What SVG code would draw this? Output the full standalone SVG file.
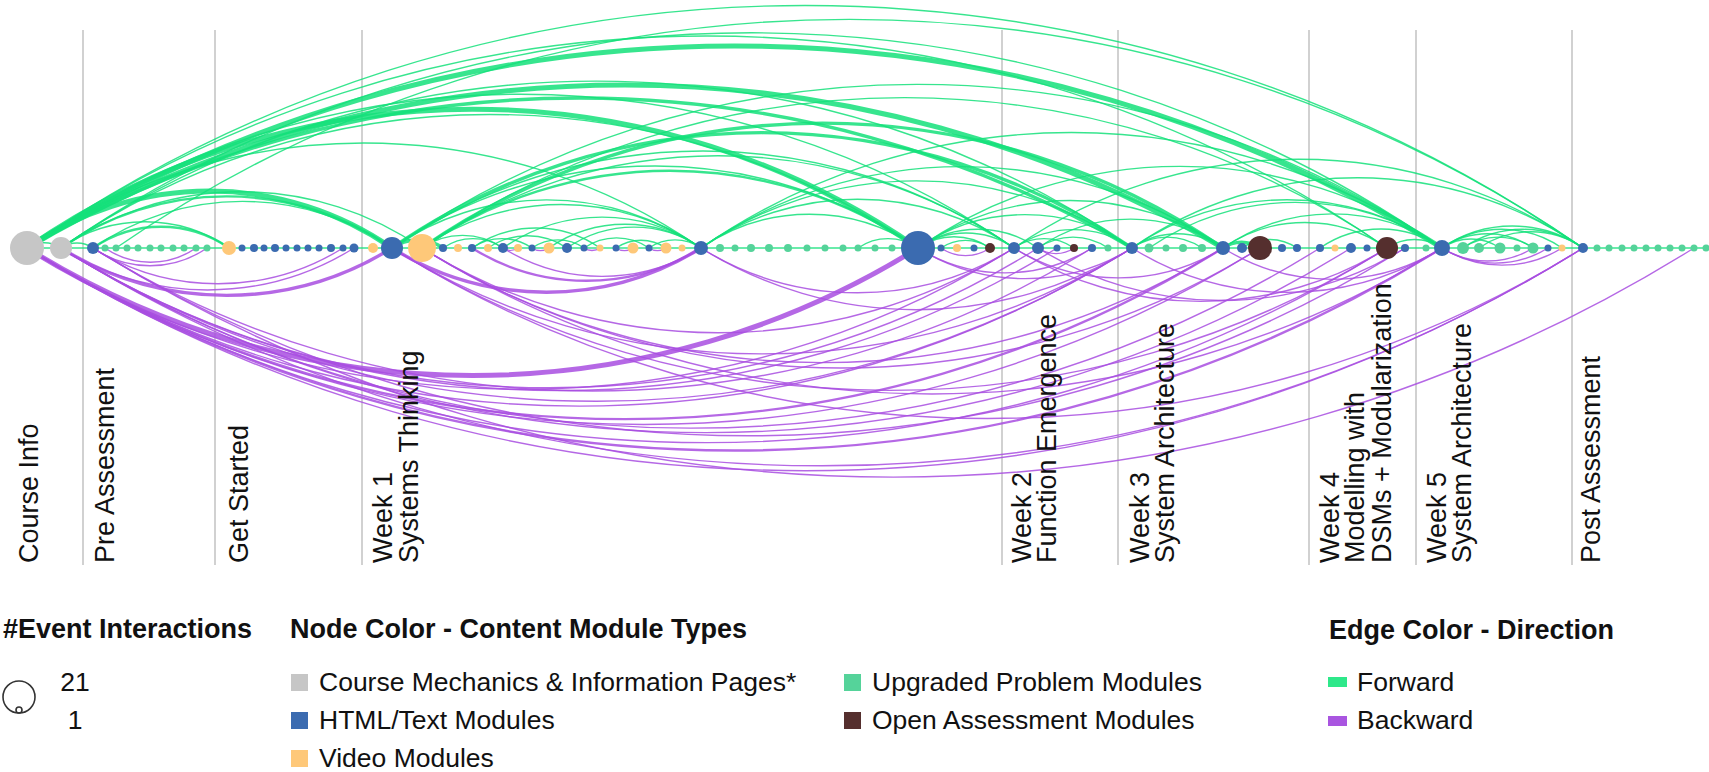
<svg xmlns="http://www.w3.org/2000/svg" width="1709" height="772" viewBox="0 0 1709 772">
<style>
.vl{stroke:#c2c2c2;stroke-width:1.5}
.fw{fill:none;stroke:#14e07a;stroke-opacity:.85;stroke-width:1.4}
.bw{fill:none;stroke:#a84de0;stroke-opacity:.85;stroke-width:1.4}
.w2{stroke-width:2.4}.w3{stroke-width:3.4}.w5{stroke-width:5}
.g{fill:#c6c6c6}.b{fill:#3b6bb0}.o{fill:#fec879}.gr{fill:#55d39a}.br{fill:#552f2e}
.lab{font-family:"Liberation Sans",Arial,sans-serif;font-size:27px;fill:#111}
.lt{font-family:"Liberation Sans",Arial,sans-serif;font-size:27px;font-weight:bold;fill:#111}
.lg{font-family:"Liberation Sans",Arial,sans-serif;font-size:26.5px;fill:#111}
</style>
<rect width="1709" height="772" fill="#fff"/>
<g id="sections">
<line class="vl" x1="83" y1="30" x2="83" y2="565"/>
<line class="vl" x1="215" y1="30" x2="215" y2="565"/>
<line class="vl" x1="362" y1="30" x2="362" y2="565"/>
<line class="vl" x1="1002" y1="30" x2="1002" y2="565"/>
<line class="vl" x1="1118" y1="30" x2="1118" y2="565"/>
<line class="vl" x1="1309" y1="30" x2="1309" y2="565"/>
<line class="vl" x1="1416" y1="30" x2="1416" y2="565"/>
<line class="vl" x1="1572" y1="30" x2="1572" y2="565"/>
</g>
<g id="connectors">
<g id="forward">
<line class="fw" x1="27" y1="248" x2="1709" y2="248"/>
<path class="fw w5" d="M27 248A1340 1340 0 0 1 1442 248"/>
<path class="fw w5" d="M27 248A1178 1178 0 0 1 1223 248"/>
<path class="fw w3" d="M27 248A1092.5 1092.5 0 0 1 1132 248"/>
<path class="fw w5" d="M27 248A784.1 784.1 0 0 1 918 248"/>
<path class="fw w5" d="M27 248A321.2 321.2 0 0 1 392 248"/>
<path class="fw w3" d="M422 248A704.9 704.9 0 0 1 1223 248"/>
<path class="fw w3" d="M392 248A651.2 651.2 0 0 1 1132 248"/>
<path class="fw w2" d="M61 248A291.3 291.3 0 0 1 392 248"/>
<path class="fw" d="M27 248A1369.3 1369.3 0 0 1 1583 248"/>
<path class="fw" d="M116 248A1290.9 1290.9 0 0 1 1583 248"/>
<path class="fw" d="M61 248A1215.3 1215.3 0 0 1 1442 248"/>
<path class="fw" d="M27 248A1196.8 1196.8 0 0 1 1387 248"/>
<path class="fw" d="M27 248A868.6 868.6 0 0 1 1014 248"/>
<path class="fw" d="M61 248A942.5 942.5 0 0 1 1132 248"/>
<path class="fw" d="M27 248A593.1 593.1 0 0 1 701 248"/>
<path class="fw" d="M61 248A754.2 754.2 0 0 1 918 248"/>
<path class="fw" d="M93 248A263.1 263.1 0 0 1 392 248"/>
<path class="fw" d="M61 248A317.7 317.7 0 0 1 422 248"/>
<path class="fw w2" d="M93 248A119.7 119.7 0 0 1 229 248"/>
<path class="fw" d="M61 248A147.8 147.8 0 0 1 229 248"/>
<path class="fw" d="M27 248A29.9 29.9 0 0 1 61 248"/>
<path class="fw" d="M61 248A28.2 28.2 0 0 1 93 248"/>
<path class="fw" d="M392 248A271.9 271.9 0 0 1 701 248"/>
<path class="fw" d="M392 248A462.9 462.9 0 0 1 918 248"/>
<path class="fw" d="M392 248A547.4 547.4 0 0 1 1014 248"/>
<path class="fw w2" d="M422 248A436.5 436.5 0 0 1 918 248"/>
<path class="fw" d="M422 248A521 521 0 0 1 1014 248"/>
<path class="fw" d="M422 248A245.5 245.5 0 0 1 701 248"/>
<path class="fw" d="M701 248A191 191 0 0 1 918 248"/>
<path class="fw" d="M701 248A275.4 275.4 0 0 1 1014 248"/>
<path class="fw" d="M701 248A379.3 379.3 0 0 1 1132 248"/>
<path class="fw" d="M567 248A117.9 117.9 0 0 1 701 248"/>
<path class="fw" d="M503 248A174.2 174.2 0 0 1 701 248"/>
<path class="fw" d="M443 248A52.8 52.8 0 0 1 503 248"/>
<path class="fw" d="M472 248A52.8 52.8 0 0 1 532 248"/>
<path class="fw" d="M532 248A45.8 45.8 0 0 1 584 248"/>
<path class="fw" d="M584 248A57.2 57.2 0 0 1 649 248"/>
<path class="fw" d="M616 248A44 44 0 0 1 666 248"/>
<path class="fw" d="M649 248A45.8 45.8 0 0 1 701 248"/>
<path class="fw" d="M472 248A112.6 112.6 0 0 1 600 248"/>
<path class="fw" d="M488 248A69.5 69.5 0 0 1 567 248"/>
<path class="fw" d="M549 248A133.8 133.8 0 0 1 701 248"/>
<path class="fw w3" d="M392 248A44.9 44.9 0 0 1 443 248"/>
<path class="fw" d="M422 248A71.3 71.3 0 0 1 503 248"/>
<path class="fw" d="M918 248A84.5 84.5 0 0 1 1014 248"/>
<path class="fw" d="M918 248A105.6 105.6 0 0 1 1038 248"/>
<path class="fw" d="M918 248A188.3 188.3 0 0 1 1132 248"/>
<path class="fw" d="M918 248A268.4 268.4 0 0 1 1223 248"/>
<path class="fw" d="M918 248A461.1 461.1 0 0 1 1442 248"/>
<path class="fw" d="M1014 248A500.7 500.7 0 0 1 1583 248"/>
<path class="fw" d="M1038 248A162.8 162.8 0 0 1 1223 248"/>
<path class="fw" d="M1014 248A103.8 103.8 0 0 1 1132 248"/>
<path class="fw" d="M1132 248A272.8 272.8 0 0 1 1442 248"/>
<path class="fw" d="M1149 248A257.8 257.8 0 0 1 1442 248"/>
<path class="fw" d="M1132 248A80.1 80.1 0 0 1 1223 248"/>
<path class="fw" d="M1223 248A144.3 144.3 0 0 1 1387 248"/>
<path class="fw" d="M1223 248A192.7 192.7 0 0 1 1442 248"/>
<path class="fw" d="M1132 248A396.9 396.9 0 0 1 1583 248"/>
<path class="fw" d="M1442 248A124.1 124.1 0 0 1 1583 248"/>
<path class="fw" d="M1442 248A80.1 80.1 0 0 1 1533 248"/>
<path class="fw" d="M1463 248A105.6 105.6 0 0 1 1583 248"/>
<path class="fw" d="M1387 248A48.4 48.4 0 0 1 1442 248"/>
<path class="fw" d="M1320 248A107.4 107.4 0 0 1 1442 248"/>
<path class="fw" d="M1442 248A105.6 105.6 0 0 1 1562 248"/>
<path class="fw" d="M858 248A52.8 52.8 0 0 1 918 248"/>
<path class="fw" d="M392 248A924 924 0 0 1 1442 248"/>
<path class="fw" d="M422 248A849.2 849.2 0 0 1 1387 248"/>
<path class="fw" d="M701 248A459.4 459.4 0 0 1 1223 248"/>
<path class="fw" d="M701 248A652.1 652.1 0 0 1 1442 248"/>
<path class="fw" d="M918 248A63.4 63.4 0 0 1 990 248"/>
<path class="fw" d="M941 248A43.1 43.1 0 0 1 990 248"/>
<path class="fw" d="M1014 248A52.8 52.8 0 0 1 1074 248"/>
<path class="fw" d="M1038 248A61.6 61.6 0 0 1 1108 248"/>
<path class="fw" d="M1132 248A61.6 61.6 0 0 1 1202 248"/>
<path class="fw w3" d="M1223 248A32.6 32.6 0 0 1 1260 248"/>
<path class="fw" d="M1242 248A48.4 48.4 0 0 1 1297 248"/>
<path class="fw" d="M1442 248A51 51 0 0 1 1500 248"/>
<path class="fw" d="M1463 248A61.6 61.6 0 0 1 1533 248"/>
<path class="fw" d="M1479 248A91.5 91.5 0 0 1 1583 248"/>
</g>
<g id="backward">
<path class="bw w5" d="M27 248A842 842 0 0 0 918 248"/>
<path class="bw w3" d="M61 248A312.8 312.8 0 0 0 392 248"/>
<path class="bw w3" d="M392 248A292 292 0 0 0 701 248"/>
<path class="bw" d="M27 248A932.7 932.7 0 0 0 1014 248"/>
<path class="bw" d="M27 248A1044.2 1044.2 0 0 0 1132 248"/>
<path class="bw w2" d="M27 248A1130.2 1130.2 0 0 0 1223 248"/>
<path class="bw" d="M27 248A1165.2 1165.2 0 0 0 1260 248"/>
<path class="bw" d="M27 248A1285.2 1285.2 0 0 0 1387 248"/>
<path class="bw w2" d="M27 248A1337.2 1337.2 0 0 0 1442 248"/>
<path class="bw" d="M27 248A1470.4 1470.4 0 0 0 1583 248"/>
<path class="bw" d="M93 248A1513 1513 0 0 0 1694 248"/>
<path class="bw" d="M61 248A923.3 923.3 0 0 0 1038 248"/>
<path class="bw" d="M61 248A1219 1219 0 0 0 1351 248"/>
<path class="bw" d="M93 248A944 944 0 0 0 1092 248"/>
<path class="bw" d="M61 248A1189.8 1189.8 0 0 0 1320 248"/>
<path class="bw" d="M93 248A1239.8 1239.8 0 0 0 1405 248"/>
<path class="bw" d="M61 248A1012.1 1012.1 0 0 0 1132 248"/>
<path class="bw" d="M61 248A941.2 941.2 0 0 0 1057 248"/>
<path class="bw" d="M93 248A100.3 100.3 0 0 0 207 248"/>
<path class="bw" d="M105 248A80.1 80.1 0 0 0 196 248"/>
<path class="bw" d="M93 248A236.3 236.3 0 0 0 343 248"/>
<path class="bw" d="M61 248A276.9 276.9 0 0 0 354 248"/>
<path class="bw" d="M422 248A559.4 559.4 0 0 0 1014 248"/>
<path class="bw" d="M422 248A757 757 0 0 0 1223 248"/>
<path class="bw" d="M392 248A940.3 940.3 0 0 0 1387 248"/>
<path class="bw" d="M422 248A791.9 791.9 0 0 0 1260 248"/>
<path class="bw" d="M392 248A699.3 699.3 0 0 0 1132 248"/>
<path class="bw w2" d="M472 248A216.4 216.4 0 0 0 701 248"/>
<path class="bw" d="M503 248A187.1 187.1 0 0 0 701 248"/>
<path class="bw" d="M701 248A295.8 295.8 0 0 0 1014 248"/>
<path class="bw" d="M701 248A407.3 407.3 0 0 0 1132 248"/>
<path class="bw" d="M918 248A164.4 164.4 0 0 0 1092 248"/>
<path class="bw" d="M918 248A202.2 202.2 0 0 0 1132 248"/>
<path class="bw" d="M941 248A43.1 43.1 0 0 0 990 248"/>
<path class="bw" d="M1014 248A197.5 197.5 0 0 0 1223 248"/>
<path class="bw" d="M1014 248A352.5 352.5 0 0 0 1387 248"/>
<path class="bw" d="M1038 248A346.8 346.8 0 0 0 1405 248"/>
<path class="bw" d="M1038 248A31.7 31.7 0 0 0 1074 248"/>
<path class="bw" d="M1132 248A293 293 0 0 0 1442 248"/>
<path class="bw" d="M1223 248A207 207 0 0 0 1442 248"/>
<path class="bw" d="M1442 248A86 86 0 0 0 1533 248"/>
<path class="bw" d="M1442 248A100.2 100.2 0 0 0 1548 248"/>
<path class="bw" d="M1442 248A113.4 113.4 0 0 0 1562 248"/>
<path class="bw" d="M61 248A1438.3 1438.3 0 0 0 1583 248"/>
<path class="bw" d="M392 248A1125.5 1125.5 0 0 0 1583 248"/>
<path class="bw" d="M422 248A963.9 963.9 0 0 0 1442 248"/>
<path class="bw" d="M503 248A13.2 13.2 0 0 0 518 248"/>
<path class="bw" d="M532 248A15 15 0 0 0 549 248"/>
<path class="bw" d="M584 248A14 14 0 0 0 600 248"/>
<path class="bw" d="M616 248A15 15 0 0 0 633 248"/>
<path class="bw" d="M649 248A15 15 0 0 0 666 248"/>
</g>
</g>
<g id="nodes">
<g id="n-course-info"><circle class="g" cx="27" cy="248" r="17"/></g>
<g id="n-course-info-2"><circle class="g" cx="61" cy="248" r="11"/></g>
<g id="n-pre-1"><circle class="b" cx="93" cy="248" r="6"/></g>
<g id="n-pre-2"><circle class="gr" cx="105" cy="248" r="3.5"/></g>
<g id="n-pre-3"><circle class="gr" cx="116" cy="248" r="3.5"/></g>
<g id="n-pre-4"><circle class="gr" cx="127" cy="248" r="3.5"/></g>
<g id="n-pre-5"><circle class="gr" cx="138" cy="248" r="3.5"/></g>
<g id="n-pre-6"><circle class="gr" cx="150" cy="248" r="3.5"/></g>
<g id="n-pre-7"><circle class="gr" cx="161" cy="248" r="3.5"/></g>
<g id="n-pre-8"><circle class="gr" cx="173" cy="248" r="3.5"/></g>
<g id="n-pre-9"><circle class="gr" cx="184" cy="248" r="3.5"/></g>
<g id="n-pre-10"><circle class="gr" cx="196" cy="248" r="3.5"/></g>
<g id="n-pre-11"><circle class="gr" cx="207" cy="248" r="3.5"/></g>
<g id="n-gs-1"><circle class="o" cx="229" cy="248" r="7"/></g>
<g id="n-gs-2"><circle class="b" cx="242" cy="248" r="3.5"/></g>
<g id="n-gs-3"><circle class="b" cx="254" cy="248" r="4"/></g>
<g id="n-gs-4"><circle class="b" cx="264" cy="248" r="3.5"/></g>
<g id="n-gs-5"><circle class="b" cx="275" cy="248" r="4"/></g>
<g id="n-gs-6"><circle class="b" cx="286" cy="248" r="3.5"/></g>
<g id="n-gs-7"><circle class="b" cx="297" cy="248" r="3.5"/></g>
<g id="n-gs-8"><circle class="b" cx="308" cy="248" r="3.5"/></g>
<g id="n-gs-9"><circle class="b" cx="319" cy="248" r="3.5"/></g>
<g id="n-gs-10"><circle class="b" cx="331" cy="248" r="4"/></g>
<g id="n-gs-11"><circle class="b" cx="343" cy="248" r="3.5"/></g>
<g id="n-gs-12"><circle class="b" cx="354" cy="248" r="4.5"/></g>
<g id="n-w1-1"><circle class="o" cx="373" cy="248" r="5"/></g>
<g id="n-w1-2"><circle class="b" cx="392" cy="248" r="11"/></g>
<g id="n-w1-3"><circle class="o" cx="422" cy="248" r="14"/></g>
<g id="n-w1-4"><circle class="b" cx="443" cy="248" r="4"/></g>
<g id="n-w1-5"><circle class="o" cx="458" cy="248" r="4"/></g>
<g id="n-w1-6"><circle class="b" cx="472" cy="248" r="4"/></g>
<g id="n-w1-7"><circle class="o" cx="488" cy="248" r="4"/></g>
<g id="n-w1-8"><circle class="b" cx="503" cy="248" r="5"/></g>
<g id="n-w1-9"><circle class="o" cx="518" cy="248" r="4"/></g>
<g id="n-w1-10"><circle class="b" cx="532" cy="248" r="3.5"/></g>
<g id="n-w1-11"><circle class="o" cx="549" cy="248" r="5.5"/></g>
<g id="n-w1-12"><circle class="b" cx="567" cy="248" r="5"/></g>
<g id="n-w1-13"><circle class="b" cx="584" cy="248" r="3.5"/></g>
<g id="n-w1-14"><circle class="o" cx="600" cy="248" r="3.5"/></g>
<g id="n-w1-15"><circle class="b" cx="616" cy="248" r="3.5"/></g>
<g id="n-w1-16"><circle class="o" cx="633" cy="248" r="5.5"/></g>
<g id="n-w1-17"><circle class="b" cx="649" cy="248" r="3.5"/></g>
<g id="n-w1-18"><circle class="o" cx="666" cy="248" r="5.5"/></g>
<g id="n-w1-19"><circle class="o" cx="682" cy="248" r="3.5"/></g>
<g id="n-w1-20"><circle class="b" cx="701" cy="248" r="7"/></g>
<g id="n-w1-21"><circle class="gr" cx="720" cy="248" r="4"/></g>
<g id="n-w1-22"><circle class="gr" cx="735" cy="248" r="3.5"/></g>
<g id="n-w1-23"><circle class="gr" cx="751" cy="248" r="4"/></g>
<g id="n-w1-24"><circle class="gr" cx="769" cy="248" r="4"/></g>
<g id="n-w1-25"><circle class="gr" cx="788" cy="248" r="4"/></g>
<g id="n-w1-26"><circle class="gr" cx="807" cy="248" r="3.5"/></g>
<g id="n-w1-27"><circle class="gr" cx="825" cy="248" r="3.5"/></g>
<g id="n-w1-28"><circle class="gr" cx="843" cy="248" r="3.5"/></g>
<g id="n-w1-29"><circle class="gr" cx="858" cy="248" r="3.5"/></g>
<g id="n-w1-30"><circle class="gr" cx="875" cy="248" r="3.5"/></g>
<g id="n-w1-31"><circle class="gr" cx="892" cy="248" r="3.5"/></g>
<g id="n-w1-32"><circle class="b" cx="918" cy="248" r="17"/></g>
<g id="n-w1-33"><circle class="b" cx="941" cy="248" r="3.5"/></g>
<g id="n-w1-34"><circle class="o" cx="957" cy="248" r="4"/></g>
<g id="n-w1-35"><circle class="b" cx="974" cy="248" r="3.5"/></g>
<g id="n-w1-36"><circle class="br" cx="990" cy="248" r="5"/></g>
<g id="n-w2-1"><circle class="b" cx="1014" cy="248" r="6"/></g>
<g id="n-w2-2"><circle class="b" cx="1038" cy="248" r="6"/></g>
<g id="n-w2-3"><circle class="b" cx="1057" cy="248" r="3.5"/></g>
<g id="n-w2-4"><circle class="br" cx="1074" cy="248" r="4"/></g>
<g id="n-w2-5"><circle class="b" cx="1092" cy="248" r="4"/></g>
<g id="n-w2-6"><circle class="gr" cx="1108" cy="248" r="3.5"/></g>
<g id="n-w3-1"><circle class="b" cx="1132" cy="248" r="6"/></g>
<g id="n-w3-2"><circle class="gr" cx="1149" cy="248" r="4.5"/></g>
<g id="n-w3-3"><circle class="gr" cx="1166" cy="248" r="3.5"/></g>
<g id="n-w3-4"><circle class="gr" cx="1183" cy="248" r="4"/></g>
<g id="n-w3-5"><circle class="gr" cx="1202" cy="248" r="4"/></g>
<g id="n-w3-6"><circle class="b" cx="1223" cy="248" r="7"/></g>
<g id="n-w3-7"><circle class="b" cx="1242" cy="248" r="5"/></g>
<g id="n-w3-8"><circle class="br" cx="1260" cy="248" r="12"/></g>
<g id="n-w3-9"><circle class="b" cx="1282" cy="248" r="4"/></g>
<g id="n-w3-10"><circle class="b" cx="1297" cy="248" r="4"/></g>
<g id="n-w4-1"><circle class="b" cx="1320" cy="248" r="4"/></g>
<g id="n-w4-2"><circle class="o" cx="1335" cy="248" r="3.5"/></g>
<g id="n-w4-3"><circle class="b" cx="1351" cy="248" r="5"/></g>
<g id="n-w4-4"><circle class="b" cx="1367" cy="248" r="3.5"/></g>
<g id="n-w4-5"><circle class="br" cx="1387" cy="248" r="11"/></g>
<g id="n-w4-6"><circle class="b" cx="1405" cy="248" r="4"/></g>
<g id="n-w5-1"><circle class="gr" cx="1426" cy="248" r="3.5"/></g>
<g id="n-w5-2"><circle class="b" cx="1442" cy="248" r="8"/></g>
<g id="n-w5-3"><circle class="gr" cx="1463" cy="248" r="6"/></g>
<g id="n-w5-4"><circle class="gr" cx="1479" cy="248" r="5"/></g>
<g id="n-w5-5"><circle class="gr" cx="1500" cy="248" r="5.5"/></g>
<g id="n-w5-6"><circle class="gr" cx="1517" cy="248" r="3.5"/></g>
<g id="n-w5-7"><circle class="gr" cx="1533" cy="248" r="5.5"/></g>
<g id="n-w5-8"><circle class="b" cx="1548" cy="248" r="3.5"/></g>
<g id="n-w5-9"><circle class="o" cx="1562" cy="248" r="3.5"/></g>
<g id="n-post-1"><circle class="b" cx="1583" cy="248" r="5"/></g>
<g id="n-post-2"><circle class="gr" cx="1597" cy="248" r="3.5"/></g>
<g id="n-post-3"><circle class="gr" cx="1609" cy="248" r="3.5"/></g>
<g id="n-post-4"><circle class="gr" cx="1622" cy="248" r="3.5"/></g>
<g id="n-post-5"><circle class="gr" cx="1634" cy="248" r="3.5"/></g>
<g id="n-post-6"><circle class="gr" cx="1646" cy="248" r="3.5"/></g>
<g id="n-post-7"><circle class="gr" cx="1658" cy="248" r="3.5"/></g>
<g id="n-post-8"><circle class="gr" cx="1670" cy="248" r="3.5"/></g>
<g id="n-post-9"><circle class="gr" cx="1682" cy="248" r="3.5"/></g>
<g id="n-post-10"><circle class="gr" cx="1694" cy="248" r="3.5"/></g>
<g id="n-post-11"><circle class="gr" cx="1706" cy="248" r="3.5"/></g>
</g>
<g id="section-labels">
<text class="lab" transform="translate(38 563) rotate(-90)">Course Info</text>
<text class="lab" transform="translate(114 563) rotate(-90)">Pre Assessment</text>
<text class="lab" transform="translate(248 563) rotate(-90)">Get Started</text>
<text class="lab" transform="translate(392 563) rotate(-90)">Week 1</text>
<text class="lab" transform="translate(418 563) rotate(-90)">Systems Thinking</text>
<text class="lab" transform="translate(1031 563) rotate(-90)">Week 2</text>
<text class="lab" transform="translate(1056 563) rotate(-90)">Function Emergence</text>
<text class="lab" transform="translate(1149 563) rotate(-90)">Week 3</text>
<text class="lab" transform="translate(1174 563) rotate(-90)">System Architecture</text>
<text class="lab" transform="translate(1339 563) rotate(-90)">Week 4</text>
<text class="lab" transform="translate(1364 563) rotate(-90)">Modelling with</text>
<text class="lab" transform="translate(1391 563) rotate(-90)">DSMs + Modularization</text>
<text class="lab" transform="translate(1446 563) rotate(-90)">Week 5</text>
<text class="lab" transform="translate(1471 563) rotate(-90)">System Architecture</text>
<text class="lab" transform="translate(1600 563) rotate(-90)">Post Assessment</text>
</g>
<g id="legend-size">
<text class="lt" x="3" y="638">#Event Interactions</text>
<circle cx="19" cy="697" r="16" fill="none" stroke="#333" stroke-width="1.6"/>
<circle cx="19" cy="710" r="3" fill="none" stroke="#333" stroke-width="1.6"/>
<text class="lg" x="75" y="691" text-anchor="middle">21</text>
<text class="lg" x="75" y="729" text-anchor="middle">1</text>
</g>
<g id="legend-node">
<text class="lt" x="290" y="638">Node Color - Content Module Types</text>
<rect class="g" x="291" y="674" width="17" height="17"/>
<text class="lg" x="319" y="691">Course Mechanics &amp; Information Pages*</text>
<rect class="b" x="291" y="712" width="17" height="17"/>
<text class="lg" x="319" y="729">HTML/Text Modules</text>
<rect class="o" x="291" y="750" width="17" height="17"/>
<text class="lg" x="319" y="767">Video Modules</text>
<rect class="gr" x="844" y="674" width="17" height="17"/>
<text class="lg" x="872" y="691">Upgraded Problem Modules</text>
<rect class="br" x="844" y="712" width="17" height="17"/>
<text class="lg" x="872" y="729">Open Assessment Modules</text>
</g>
<g id="legend-edge">
<text class="lt" x="1329" y="639">Edge Color - Direction</text>
<rect x="1328" y="677" width="19" height="10" fill="#2ee88a"/>
<text class="lg" x="1357" y="691">Forward</text>
<rect x="1328" y="716" width="19" height="10" fill="#a955e0"/>
<text class="lg" x="1357" y="729">Backward</text>
</g>
</svg>
